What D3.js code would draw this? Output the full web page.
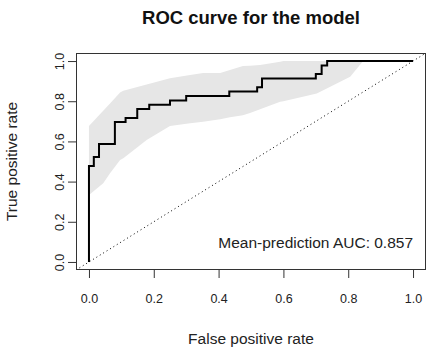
<!DOCTYPE html>
<html>
<head>
<meta charset="utf-8">
<script src="https://cdn.jsdelivr.net/npm/d3@7"></script>
<style>
  body { margin: 0; background: #fff; }
  svg { display: block; font-family: "Liberation Sans", Arial, Helvetica, sans-serif; }
</style>
</head>
<body>
<svg id="chart" width="434" height="352"></svg>
<script>
// ROC step curve (corner points)
const rocFpr = [0, 0, 0.015, 0.031, 0.080, 0.113, 0.149, 0.186, 0.250, 0.300, 0.433, 0.519, 0.534, 0.700, 0.718, 0.735, 1.0];
const rocTpr = [0, 0.478, 0.522, 0.587, 0.696, 0.717, 0.761, 0.783, 0.804, 0.826, 0.848, 0.870, 0.913, 0.935, 0.978, 1.0, 1.0];

// grey spread band
const bandFpr  = [0, 0.044, 0.065, 0.096, 0.106, 0.178, 0.250, 0.312, 0.352, 0.405, 0.435, 0.475, 0.497, 0.528, 0.590, 0.600, 0.703, 0.806, 0.846];
const bandLow  = [0.333, 0.392, 0.441, 0.507, 0.516, 0.607, 0.677, 0.690, 0.698, 0.710, 0.720, 0.730, 0.741, 0.760, 0.797, 0.800, 0.839, 0.922, 1.0];
const bandHigh = [0.677, 0.753, 0.789, 0.843, 0.852, 0.883, 0.914, 0.930, 0.940, 0.940, 0.955, 0.975, 0.977, 0.980, 0.997, 1.0, 1.0, 1.0, 1.0];

const tickValues = [0, 0.2, 0.4, 0.6, 0.8, 1.0];
const aucLabel = "Mean-prediction AUC: 0.857";

const svg = d3.select('#chart');
const box = {left: 76, right: 426, top: 53, bottom: 270};

// R style 4% padding around [0,1]
const x = d3.scaleLinear().domain([-0.04, 1.04]).range([box.left, box.right]);
const y = d3.scaleLinear().domain([-0.04, 1.04]).range([box.bottom, box.top]);

svg.append('defs').append('clipPath').attr('id', 'clip')
   .append('rect')
   .attr('x', box.left).attr('y', box.top)
   .attr('width', box.right - box.left).attr('height', box.bottom - box.top);

const plot = svg.append('g').attr('clip-path', 'url(#clip)');

const band = d3.area()
               .x((d, i) => x(bandFpr[i]))
               .y0((d, i) => y(bandLow[i]))
               .y1((d, i) => y(bandHigh[i]));
plot.append('path')
    .datum(bandFpr)
    .attr('d', band)
    .attr('fill', '#e6e6e6');

// chance diagonal
plot.append('line')
    .attr('x1', x(-0.04)).attr('y1', y(-0.04))
    .attr('x2', x(1.04)).attr('y2', y(1.04))
    .attr('stroke', '#000')
    .attr('stroke-width', 1)
    .attr('stroke-dasharray', '1 3');

const roc = d3.line()
              .curve(d3.curveStepAfter)
              .x((d, i) => x(rocFpr[i]))
              .y((d, i) => y(rocTpr[i]));
plot.append('path')
    .datum(rocFpr)
    .attr('d', roc)
    .attr('fill', 'none')
    .attr('stroke', '#000')
    .attr('stroke-width', 2)
    .attr('stroke-linejoin', 'miter');

// axes
const fmt = d3.format('.1f');
const x_ax = svg.append('g')
  .attr('transform', `translate(0,${box.bottom})`)
  .call(d3.axisBottom(x).tickValues(tickValues).tickFormat(fmt).tickSize(8));
x_ax.select('.domain').remove();
x_ax.selectAll('.tick line').attr('stroke', '#333');
x_ax.selectAll('.tick text')
    .attr('y', 33).attr('dy', null)
    .attr('font-size', 12.5).attr('font-family', null).attr('fill', '#222');

const y_ax = svg.append('g')
  .attr('transform', `translate(${box.left},0)`)
  .call(d3.axisLeft(y).tickValues(tickValues).tickFormat(fmt).tickSize(8));
y_ax.select('.domain').remove();
y_ax.selectAll('.tick line').attr('stroke', '#333');
y_ax.selectAll('.tick text')
    .attr('x', null).attr('dy', null)
    .attr('text-anchor', 'middle')
    .attr('transform', 'translate(-12,0) rotate(-90)')
    .attr('font-size', 12.5).attr('font-family', null).attr('fill', '#222');

// plot box
svg.append('rect')
   .attr('x', box.left + 0.5).attr('y', box.top + 0.5)
   .attr('width', box.right - box.left - 1).attr('height', box.bottom - box.top - 1)
   .attr('fill', 'none').attr('stroke', '#333');

// texts
svg.append('text')
   .attr('x', (box.left + box.right) / 2).attr('y', 23.5)
   .attr('text-anchor', 'middle')
   .attr('font-size', 18.5).attr('font-weight', 'bold').attr('fill', '#111')
   .text('ROC curve for the model');

svg.append('text')
   .attr('x', (box.left + box.right) / 2).attr('y', 344)
   .attr('text-anchor', 'middle')
   .attr('font-size', 15.5).attr('fill', '#222')
   .text('False positive rate');

svg.append('text')
   .attr('transform', `translate(17,${(box.top + box.bottom) / 2}) rotate(-90)`)
   .attr('text-anchor', 'middle')
   .attr('font-size', 15.5).attr('fill', '#222')
   .text('True positive rate');

svg.append('text')
   .attr('x', x(1)).attr('y', 247.5)
   .attr('text-anchor', 'end')
   .attr('font-size', 15.5).attr('fill', '#222')
   .text(aucLabel);
</script>
</body>
</html>
